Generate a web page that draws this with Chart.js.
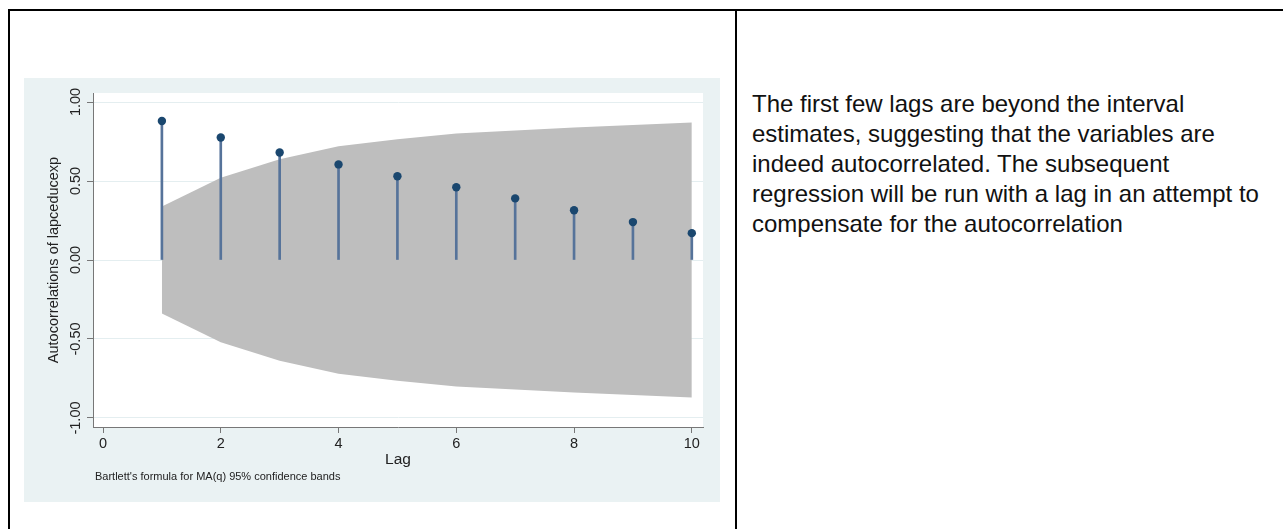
<!DOCTYPE html>
<html>
<head>
<meta charset="utf-8">
<script src="https://cdn.jsdelivr.net/npm/chart.js@4/dist/chart.umd.min.js"></script>
<style>
    body { margin: 0; background: #fff; width: 1283px; height: 529px; overflow: hidden; position: relative; font-family: "Liberation Sans", Arial, sans-serif; }
    .rule { position: absolute; background: #000; }
    #panel { position: absolute; left: 24px; top: 78px; width: 696px; height: 424px; background: #eaf2f3; }
    #note { position: absolute; left: 752px; top: 89px; font-size: 24px; line-height: 30px; color: #111; white-space: nowrap; }
</style>
</head>
<body>
<div class="rule" style="left:8px; top:9px; width:1290px; height:2px;"></div>
<div class="rule" style="left:8px; top:9px; width:2px; height:530px;"></div>
<div class="rule" style="left:735px; top:9px; width:2px; height:530px;"></div>

<div id="panel"><canvas id="acfChart" width="696" height="424"></canvas></div>

<div id="note">
    The first few lags are beyond the interval<br>
    estimates, suggesting that the variables are<br>
    indeed autocorrelated. The subsequent<br>
    regression will be run with a lag in an attempt to<br>
    compensate for the autocorrelation
</div>

<script>
// ACF of lapceducexp
const lags = [1, 2, 3, 4, 5, 6, 7, 8, 9, 10];
const acfValues = [0.88, 0.775, 0.68, 0.605, 0.53, 0.46, 0.39, 0.315, 0.24, 0.17];
const bandUpper = [0.338, 0.52, 0.637, 0.72, 0.764, 0.80, 0.82, 0.839, 0.855, 0.87];
const bandLower = [-0.338, -0.52, -0.637, -0.72, -0.764, -0.80, -0.82, -0.839, -0.855, -0.87];
const xTicks = [0, 2, 4, 6, 8, 10];
const yTicks = [-1, -0.5, 0, 0.5, 1];
const yTickLabels = ['-1.00', '-0.50', '0.00', '0.50', '1.00'];

const FONT = '"Liberation Sans", Arial, sans-serif';
const toPoints = (vals) => lags.map((lag, i) => ({ x: lag, y: vals[i] }));

// white plot region + rotated y labels and titles, Stata style
const stataDecor = {
    id: 'stataDecor',
    beforeDraw(chart) {
        const { ctx, chartArea } = chart;
        ctx.save();
        ctx.fillStyle = '#ffffff';
        ctx.fillRect(chartArea.left, chartArea.top, chartArea.right - chartArea.left, chartArea.bottom - chartArea.top);
        ctx.restore();
    },
    afterDraw(chart) {
        const { ctx, chartArea } = chart;
        const yScale = chart.scales.y;
        ctx.save();
        ctx.fillStyle = '#222';
        ctx.textAlign = 'center';
        ctx.textBaseline = 'alphabetic';

        ctx.font = '14.5px ' + FONT;
        yTicks.forEach((v, i) => {
            ctx.save();
            ctx.translate(56, yScale.getPixelForValue(v));
            ctx.rotate(-Math.PI / 2);
            ctx.fillText(yTickLabels[i], 0, 0);
            ctx.restore();
        });

        ctx.save();
        ctx.translate(34, yScale.getPixelForValue(0));
        ctx.rotate(-Math.PI / 2);
        ctx.fillText('Autocorrelations of lapceducexp', 0, 0);
        ctx.restore();

        ctx.font = '15.5px ' + FONT;
        ctx.fillText('Lag', (chartArea.left + chartArea.right) / 2, 386);

        ctx.font = '11px ' + FONT;
        ctx.textAlign = 'left';
        ctx.fillText("Bartlett's formula for MA(q) 95% confidence bands", 71, 402);
        ctx.restore();
    }
};

new Chart(document.getElementById('acfChart'), {
    type: 'scatter',
    data: {
        datasets: [
            {
                type: 'line',
                data: toPoints(bandUpper),
                borderWidth: 0,
                pointRadius: 0,
                fill: false,
                order: 4
            },
            {
                type: 'line',
                data: toPoints(bandLower),
                borderWidth: 0,
                pointRadius: 0,
                backgroundColor: '#bebebe',
                fill: '-1',
                order: 3
            },
            {
                type: 'bar',
                data: toPoints(acfValues),
                backgroundColor: '#56739a',
                barThickness: 2,
                order: 2
            },
            {
                type: 'scatter',
                data: toPoints(acfValues),
                backgroundColor: '#1a476f',
                borderWidth: 0,
                pointRadius: 4.2,
                order: 1
            }
        ]
    },
    options: {
        responsive: false,
        animation: false,
        layout: { padding: { top: 15, right: 17, left: 0, bottom: 0 } },
        plugins: { legend: { display: false }, tooltip: { enabled: false } },
        scales: {
            x: {
                type: 'linear',
                min: -0.17,
                max: 10.19,
                offset: false,
                afterBuildTicks: (s) => { s.ticks = xTicks.map(v => ({ value: v })); },
                afterFit: (s) => { s.height = 75; },
                grid: { drawOnChartArea: false, offset: false, tickLength: 6, tickColor: '#777' },
                border: { display: true, color: '#777', width: 1 },
                ticks: { color: '#222', font: { family: FONT, size: 14.5 }, padding: 2, maxRotation: 0 }
            },
            y: {
                type: 'linear',
                min: -1.057,
                max: 1.057,
                afterBuildTicks: (s) => { s.ticks = yTicks.map(v => ({ value: v })); },
                afterFit: (s) => { s.width = 69; },
                grid: { color: '#e4eef0', tickLength: 6, tickColor: '#777' },
                border: { display: true, color: '#777', width: 1 },
                ticks: { display: false }
            }
        }
    },
    plugins: [stataDecor]
});
</script>
</body>
</html>
